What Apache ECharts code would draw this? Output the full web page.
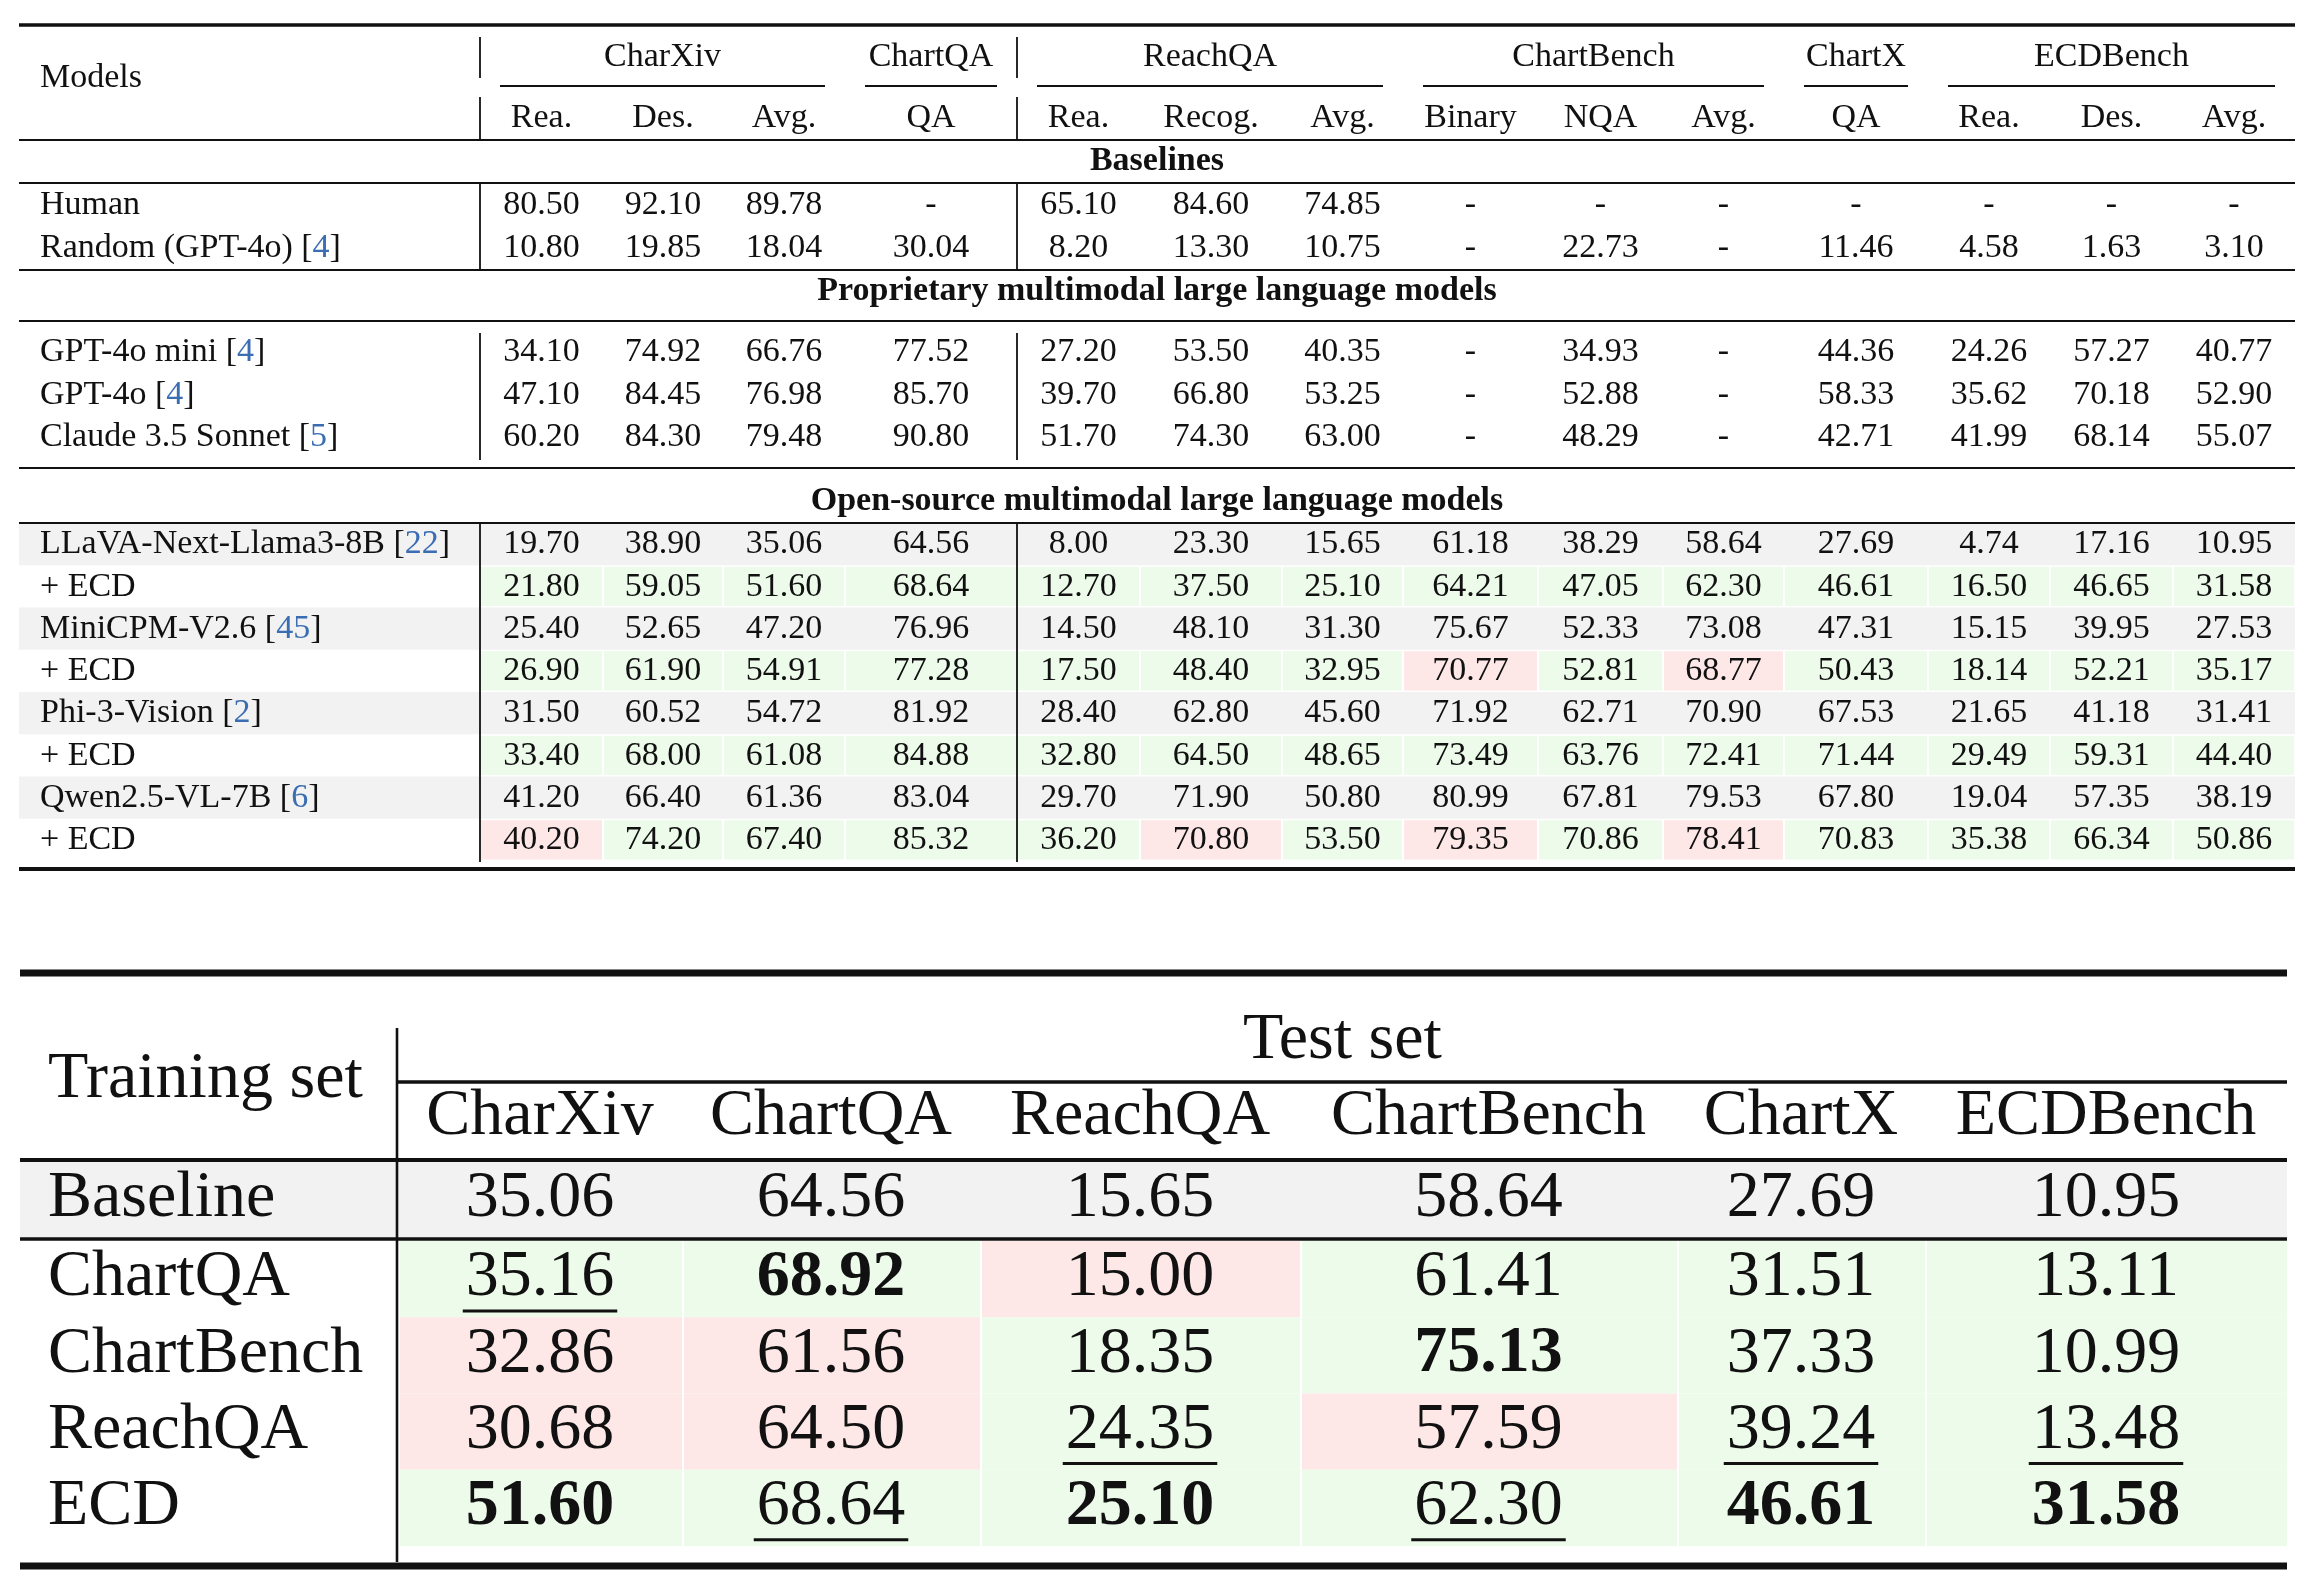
<!DOCTYPE html>
<html>
<head>
<meta charset="utf-8">
<script src="https://cdn.jsdelivr.net/npm/echarts@6/dist/echarts.min.js"></script>
<style>
  html, body { margin: 0; padding: 0; background: #fff; }
  #main { width: 2310px; height: 1588px; }
</style>
</head>
<body>
<div id="main"></div>
<script>
// ---- upper table: benchmark results ----
const benchGroups = ['CharXiv', 'ChartQA', 'ReachQA', 'ChartBench', 'ChartX', 'ECDBench'];
const benchGroupSpans = [3, 1, 3, 3, 1, 3];
const metricLabels = ['Rea.', 'Des.', 'Avg.', 'QA', 'Rea.', 'Recog.', 'Avg.', 'Binary', 'NQA', 'Avg.', 'QA', 'Rea.', 'Des.', 'Avg.'];
const sectionTitles = ['Baselines', 'Proprietary multimodal large language models', 'Open-source multimodal large language models'];

const baselineNames = ['Human', 'Random (GPT-4o)'];
const baselineRefs = ['', '4'];
const baselineScores = [
    [80.50, 92.10, 89.78, null, 65.10, 84.60, 74.85, null, null, null, null, null, null, null],
    [10.80, 19.85, 18.04, 30.04, 8.20, 13.30, 10.75, null, 22.73, null, 11.46, 4.58, 1.63, 3.10]
];

const proprietaryNames = ['GPT-4o mini', 'GPT-4o', 'Claude 3.5 Sonnet'];
const proprietaryRefs = ['4', '4', '5'];
const proprietaryScores = [
    [34.10, 74.92, 66.76, 77.52, 27.20, 53.50, 40.35, null, 34.93, null, 44.36, 24.26, 57.27, 40.77],
    [47.10, 84.45, 76.98, 85.70, 39.70, 66.80, 53.25, null, 52.88, null, 58.33, 35.62, 70.18, 52.90],
    [60.20, 84.30, 79.48, 90.80, 51.70, 74.30, 63.00, null, 48.29, null, 42.71, 41.99, 68.14, 55.07]
];

const openNames = ['LLaVA-Next-Llama3-8B', 'MiniCPM-V2.6', 'Phi-3-Vision', 'Qwen2.5-VL-7B'];
const openRefs = ['22', '45', '2', '6'];
const openBaseScores = [
    [19.70, 38.90, 35.06, 64.56, 8.00, 23.30, 15.65, 61.18, 38.29, 58.64, 27.69, 4.74, 17.16, 10.95],
    [25.40, 52.65, 47.20, 76.96, 14.50, 48.10, 31.30, 75.67, 52.33, 73.08, 47.31, 15.15, 39.95, 27.53],
    [31.50, 60.52, 54.72, 81.92, 28.40, 62.80, 45.60, 71.92, 62.71, 70.90, 67.53, 21.65, 41.18, 31.41],
    [41.20, 66.40, 61.36, 83.04, 29.70, 71.90, 50.80, 80.99, 67.81, 79.53, 67.80, 19.04, 57.35, 38.19]
];
const ecdLabel = '+ ECD';
const openEcdScores = [
    [21.80, 59.05, 51.60, 68.64, 12.70, 37.50, 25.10, 64.21, 47.05, 62.30, 46.61, 16.50, 46.65, 31.58],
    [26.90, 61.90, 54.91, 77.28, 17.50, 48.40, 32.95, 70.77, 52.81, 68.77, 50.43, 18.14, 52.21, 35.17],
    [33.40, 68.00, 61.08, 84.88, 32.80, 64.50, 48.65, 73.49, 63.76, 72.41, 71.44, 29.49, 59.31, 44.40],
    [40.20, 74.20, 67.40, 85.32, 36.20, 70.80, 53.50, 79.35, 70.86, 78.41, 70.83, 35.38, 66.34, 50.86]
];

// ---- lower table: training set ablation ----
const testSets = ['CharXiv', 'ChartQA', 'ReachQA', 'ChartBench', 'ChartX', 'ECDBench'];
const baselineLabel = 'Baseline';
const baselineRow = [35.06, 64.56, 15.65, 58.64, 27.69, 10.95];
const trainingSets = ['ChartQA', 'ChartBench', 'ReachQA', 'ECD'];
const trainedScores = [
    [35.16, 68.92, 15.00, 61.41, 31.51, 13.11],
    [32.86, 61.56, 18.35, 75.13, 37.33, 10.99],
    [30.68, 64.50, 24.35, 57.59, 39.24, 13.48],
    [51.60, 68.64, 25.10, 62.30, 46.61, 31.58]
];

// ---- layout & style ----
const SERIF = '"Liberation Serif", "DejaVu Serif", serif';
const INK = '#111';
const REF_BLUE = '#3b6db3';
const GREY = '#f2f2f2';
const GREEN = '#edfbea';
const PINK = '#fde7e7';

const TOP = {
    colEdges: [480, 603, 723, 845, 1017, 1140, 1282, 1403, 1538, 1663, 1784, 1928, 2050, 2173, 2295],
    left: 19, right: 2295, nameX: 40, size: 34,
    groupY: 57.5, modelsY: 78.5, cmidY: 86, metricY: 118.5, cmidTrim: 20,
    sectionY: [161.5, 291.5, 501.5],
    baselineY0: 205.5, proprietaryY0: 352.5, rowStep: 42.5,
    openTop: 523, openStep: 42.25, textOffset: 21.5,
    rules: [[25, 3.4], [140, 2.2], [183, 2.2], [270, 2.2], [321, 2.2], [468, 2.2], [523, 2.2], [869, 4]],
    vSegments: [[37, 78], [97, 140], [184, 270], [333, 460], [523, 862]]
};
const BOT = {
    colEdges: [398, 682, 980, 1300, 1677, 1925, 2287],
    left: 20, right: 2287, nameX: 48, size: 66,
    titleY: 1041, trainLabelY: 1080, headerY: 1117,
    baseTop: 1162, baseBottom: 1237, rowsTop: 1241, rowStep: 76.25, textOffset: 37,
    underlineOffset: 33,
    rules: [[973, 7, 20], [1082, 3.5, 398], [1160, 4, 20], [1239, 3.5, 20], [1566, 7, 20]],
    vLine: [397, 1028, 1562]
};

const fills = [];
const lines = [];
const texts = [];

function colCenter(edges, i) { return (edges[i] + edges[i + 1]) / 2; }
function fmt(v) { return v == null ? '-' : v.toFixed(2); }

// upper table header
let c0 = 0;
benchGroups.forEach(function (g, gi) {
    const span = benchGroupSpans[gi];
    const x0 = TOP.colEdges[c0], x1 = TOP.colEdges[c0 + span];
    texts.push({ x: (x0 + x1) / 2, y: TOP.groupY, text: g, size: TOP.size });
    lines.push({ x: x0 + TOP.cmidTrim, y: TOP.cmidY, x1: x1 - TOP.cmidTrim, y1: TOP.cmidY, w: 1.8 });
    c0 += span;
});
metricLabels.forEach(function (m, i) {
    texts.push({ x: colCenter(TOP.colEdges, i), y: TOP.metricY, text: m, size: TOP.size });
});
texts.push({ x: TOP.nameX, y: TOP.modelsY, text: 'Models', size: TOP.size, align: 'left' });

sectionTitles.forEach(function (s, i) {
    texts.push({ x: (TOP.left + TOP.right) / 2, y: TOP.sectionY[i], text: s, size: TOP.size, bold: true });
});

function addTopRow(name, ref, scores, y) {
    texts.push({ x: TOP.nameX, y: y, text: name, ref: ref, size: TOP.size, align: 'left' });
    scores.forEach(function (v, i) {
        texts.push({ x: colCenter(TOP.colEdges, i), y: y, text: fmt(v), size: TOP.size });
    });
}
baselineNames.forEach(function (n, i) {
    addTopRow(n, baselineRefs[i], baselineScores[i], TOP.baselineY0 + i * TOP.rowStep);
});
proprietaryNames.forEach(function (n, i) {
    addTopRow(n, proprietaryRefs[i], proprietaryScores[i], TOP.proprietaryY0 + i * TOP.rowStep);
});
openNames.forEach(function (n, i) {
    const baseTop = TOP.openTop + (2 * i) * TOP.openStep;
    const ecdTop = baseTop + TOP.openStep;
    fills.push({ x: TOP.left, y: baseTop, x1: TOP.right, y1: baseTop + TOP.openStep, color: GREY });
    addTopRow(n, openRefs[i], openBaseScores[i], baseTop + TOP.textOffset);
    openEcdScores[i].forEach(function (v, ci) {
        const better = v > openBaseScores[i][ci];
        fills.push({ x: TOP.colEdges[ci] + 1, y: ecdTop + 1.5, x1: TOP.colEdges[ci + 1] - 1, y1: ecdTop + TOP.openStep - 1.5, color: better ? GREEN : PINK });
    });
    addTopRow(ecdLabel, '', openEcdScores[i], ecdTop + TOP.textOffset);
});

TOP.rules.forEach(function (r) {
    lines.push({ x: TOP.left, y: r[0], x1: TOP.right, y1: r[0], w: r[1] });
});
[TOP.colEdges[0], TOP.colEdges[4]].forEach(function (vx) {
    TOP.vSegments.forEach(function (s) {
        lines.push({ x: vx, y: s[0], x1: vx, y1: s[1], w: 1.8 });
    });
});

// lower table
texts.push({ x: (BOT.colEdges[0] + BOT.right) / 2, y: BOT.titleY, text: 'Test set', size: BOT.size });
texts.push({ x: BOT.nameX, y: BOT.trainLabelY, text: 'Training set', size: BOT.size, align: 'left' });
testSets.forEach(function (t, i) {
    texts.push({ x: colCenter(BOT.colEdges, i), y: BOT.headerY, text: t, size: BOT.size });
});
fills.push({ x: BOT.left, y: BOT.baseTop, x1: BOT.right, y1: BOT.baseBottom, color: GREY });
texts.push({ x: BOT.nameX, y: BOT.baseTop + BOT.textOffset, text: baselineLabel, size: BOT.size, align: 'left' });
baselineRow.forEach(function (v, i) {
    texts.push({ x: colCenter(BOT.colEdges, i), y: BOT.baseTop + BOT.textOffset, text: fmt(v), size: BOT.size });
});

// best value per column is bold, runner-up underlined
const ranks = testSets.map(function (t, ci) {
    return trainedScores.map(function (r) { return r[ci]; }).slice().sort(function (a, b) { return b - a; });
});
trainingSets.forEach(function (name, ri) {
    const top = BOT.rowsTop + ri * BOT.rowStep;
    const y = top + BOT.textOffset;
    texts.push({ x: BOT.nameX, y: y, text: name, size: BOT.size, align: 'left' });
    trainedScores[ri].forEach(function (v, ci) {
        fills.push({ x: BOT.colEdges[ci] + 2, y: top, x1: BOT.colEdges[ci + 1], y1: top + BOT.rowStep, color: v > baselineRow[ci] ? GREEN : PINK });
        texts.push({
            x: colCenter(BOT.colEdges, ci), y: y, text: fmt(v), size: BOT.size,
            bold: v === ranks[ci][0], underline: v === ranks[ci][1] ? BOT.underlineOffset : 0
        });
    });
});
BOT.rules.forEach(function (r) {
    lines.push({ x: r[2], y: r[0], x1: BOT.right, y1: r[0], w: r[1] });
});
lines.push({ x: BOT.vLine[0], y: BOT.vLine[1], x1: BOT.vLine[0], y1: BOT.vLine[2], w: 2.6 });

// ---- rendering ----
const measureCtx = document.createElement('canvas').getContext('2d');
function textWidth(str, font) {
    measureCtx.font = font;
    return measureCtx.measureText(str).width;
}

function drawFill(f, api) {
    const a = api.coord([f.x, f.y]), b = api.coord([f.x1, f.y1]);
    return { type: 'rect', shape: { x: a[0], y: a[1], width: b[0] - a[0], height: b[1] - a[1] }, style: { fill: f.color } };
}
function drawLine(l, api) {
    const a = api.coord([l.x, l.y]), b = api.coord([l.x1, l.y1]);
    return { type: 'line', shape: { x1: a[0], y1: a[1], x2: b[0], y2: b[1] }, style: { stroke: INK, lineWidth: l.w } };
}
function drawText(t, api) {
    const p = api.coord([t.x, t.y]);
    const font = (t.bold ? 'bold ' : '') + t.size + 'px ' + SERIF;
    const align = t.align || 'center';
    if (t.ref) {
        return {
            type: 'text', x: p[0], y: p[1],
            style: {
                text: '{n|' + t.text + ' [}{r|' + t.ref + '}{n|]}',
                align: align, verticalAlign: 'middle',
                rich: {
                    n: { font: font, fill: INK, color: INK },
                    r: { font: font, fill: REF_BLUE, color: REF_BLUE }
                }
            }
        };
    }
    const el = { type: 'text', x: p[0], y: p[1], style: { text: t.text, font: font, fill: INK, align: align, verticalAlign: 'middle' } };
    if (!t.underline) return el;
    const w = textWidth(t.text, font) + 6;
    return {
        type: 'group',
        children: [el, {
            type: 'line',
            shape: { x1: p[0] - w / 2, y1: p[1] + t.underline, x2: p[0] + w / 2, y2: p[1] + t.underline },
            style: { stroke: INK, lineWidth: 3 }
        }]
    };
}

function layer(name, items, draw, z) {
    return {
        name: name,
        type: 'custom',
        coordinateSystem: 'cartesian2d',
        silent: true,
        clip: false,
        z: z,
        data: items.map(function (it) { return [it.x, it.y]; }),
        renderItem: function (params, api) { return draw(items[params.dataIndex], api); }
    };
}

const chart = echarts.init(document.getElementById('main'));
chart.setOption({
    animation: false,
    backgroundColor: '#fff',
    grid: { left: 0, right: 0, top: 0, bottom: 0 },
    xAxis: { type: 'value', min: 0, max: 2310, show: false },
    yAxis: { type: 'value', min: 0, max: 1588, inverse: true, show: false },
    series: [
        layer('fills', fills, drawFill, 1),
        layer('rules', lines, drawLine, 2),
        layer('texts', texts, drawText, 3)
    ]
});
</script>
</body>
</html>
